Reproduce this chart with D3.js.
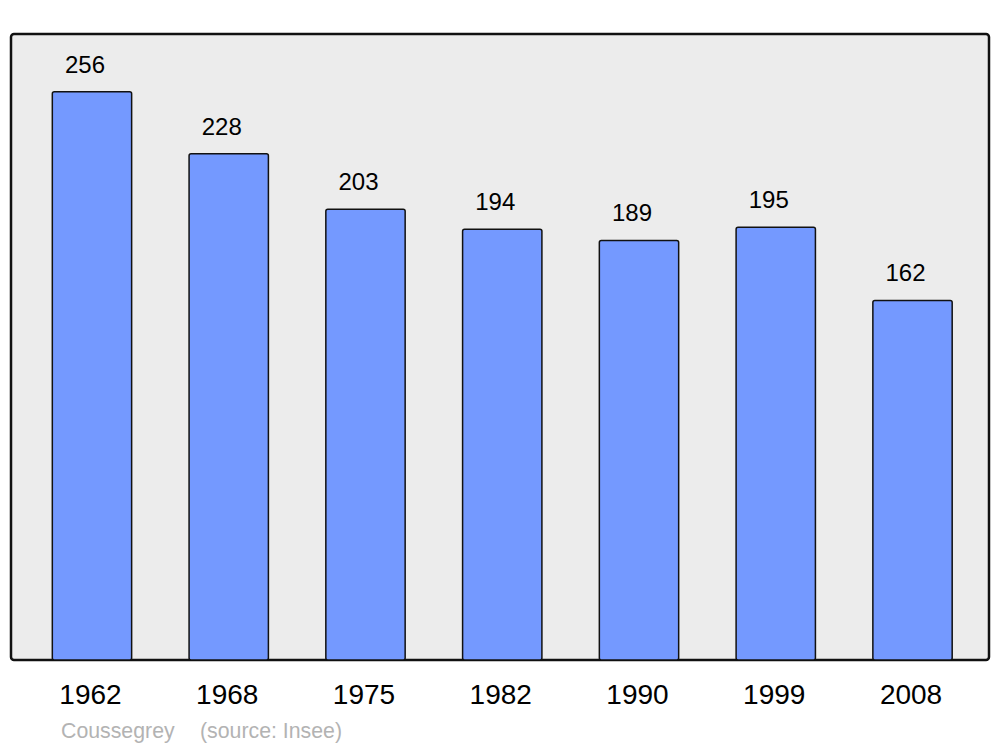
<!DOCTYPE html>
<html>
<head>
<meta charset="utf-8">
<script src="https://cdn.jsdelivr.net/npm/d3@7"></script>
<style>
  body { margin: 0; background: #fff; }
  text { font-family: "Liberation Sans", Arial, sans-serif; }
</style>
</head>
<body>
<div id="chart"></div>
<script>
// population by census year
var years = ["1962", "1968", "1975", "1982", "1990", "1999", "2008"];
var population = [256, 228, 203, 194, 189, 195, 162];
var placeName = "Coussegrey";
var sourceNote = "(source: Insee)";

var width = 1000, height = 747;

var svg = d3.select("#chart")
    .append("svg")
    .attr("width", width)
    .attr("height", height);

// panel background
svg.append("rect")
    .attr("x", 11)
    .attr("y", 34)
    .attr("width", 978)
    .attr("height", 626)
    .attr("rx", 3)
    .attr("fill", "#ececec")
    .attr("stroke", "#111")
    .attr("stroke-width", 2.5);

var x = d3.scaleBand()
    .domain(years)
    .range([23.6, 980.9])
    .paddingInner(0.42)
    .paddingOuter(0.21);

var y = d3.scaleLinear()
    .domain([0, 282])
    .range([660, 34]);

var data = years.map(function(yr, i) { return {year: yr, value: population[i]}; });

svg.selectAll(".bar")
    .data(data)
    .enter()
    .append("rect")
    .attr("class", "bar")
    .attr("x", function(d) { return x(d.year); })
    .attr("y", function(d) { return y(d.value); })
    .attr("width", x.bandwidth())
    .attr("height", function(d) { return y(0) - y(d.value); })
    .attr("rx", 2)
    .attr("fill", "#7499ff")
    .attr("stroke", "#111")
    .attr("stroke-width", 1.5);

// value labels above bars (sit a bit left of bar centre in the original)
svg.selectAll(".val")
    .data(data)
    .enter()
    .append("text")
    .attr("class", "val")
    .attr("x", function(d) { return x(d.year) + x.bandwidth() / 2 - 7; })
    .attr("y", function(d) { return y(d.value) - 19; })
    .attr("text-anchor", "middle")
    .style("font-size", "24px")
    .attr("fill", "#000")
    .text(function(d) { return d.value; });

// x axis labels (no line, no ticks)
var xAxis = svg.append("g")
    .attr("transform", "translate(0,660)")
    .call(d3.axisBottom(x).tickSize(0).tickPadding(28));
xAxis.select(".domain").remove();
xAxis.selectAll("text")
    .style("font-size", "28px")
    .style("font-family", "'Liberation Sans', Arial, sans-serif")
    .attr("fill", "#000")
    .attr("dy", "0")
    .attr("x", -1.5)
    .attr("y", 44);

// source line
svg.append("text")
    .attr("x", 61)
    .attr("y", 738)
    .style("font-size", "21.3px")
    .attr("fill", "#b3b3b3")
    .text(placeName);
svg.append("text")
    .attr("x", 200)
    .attr("y", 738)
    .style("font-size", "21.3px")
    .attr("fill", "#b3b3b3")
    .text(sourceNote);
</script>
</body>
</html>
